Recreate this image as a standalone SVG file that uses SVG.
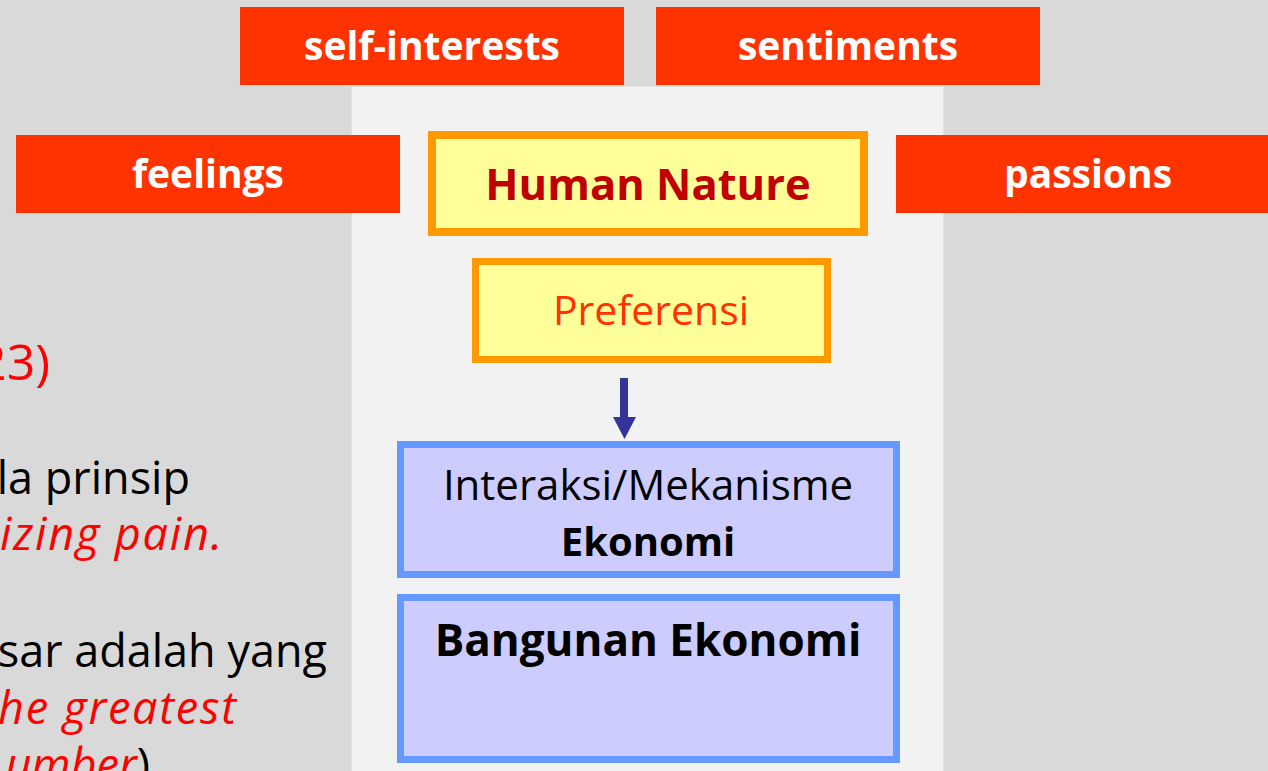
<svg xmlns="http://www.w3.org/2000/svg" width="1268" height="771" viewBox="0 0 1268 771">
  <style>
    .tag { fill: #ff3300; }
    .tagtxt { fill: #ffffff; font-family: "Open Sans", "Liberation Sans", sans-serif; font-weight: bold; font-size: 39px; text-anchor: middle; }
    .yellow { fill: #ffff99; stroke: #ff9900; }
    .blue { fill: #ccccff; stroke: #6699ff; stroke-width: 7; }
    .lbl { font-family: "Open Sans", "Liberation Sans", sans-serif; text-anchor: middle; }
    .body { font-family: "Open Sans", "Liberation Sans", sans-serif; font-size: 45px; text-anchor: end; fill: #000000; }
    .em { fill: #ff0000; font-style: italic; }
  </style>

  <!-- slide background and centre panel -->
  <rect x="0" y="0" width="1268" height="771" fill="#d9d9d9"/>
  <rect x="351.5" y="86.5" width="592" height="690" fill="#f2f2f2" stroke="#e3e3e3" stroke-width="1"/>

  <!-- body text running off the left edge -->
  <g id="body-text">
    <text class="body" x="50" y="380" style="fill:#ff0000;font-size:50px">23)</text>
    <text class="body" x="190" y="494">la prinsip</text>
    <text class="body em" x="222" y="550" textLength="222" lengthAdjust="spacing">izing pain.</text>
    <text class="body" x="327" y="667">sar adalah yang</text>
    <text class="body em" x="236" y="724" textLength="238" lengthAdjust="spacing">he greatest</text>
    <text class="body" x="150" y="781"><tspan class="em">umber</tspan>)</text>
  </g>

  <!-- orange-red tags -->
  <g id="self-interests">
    <rect class="tag" x="240" y="7" width="384" height="78"/>
    <text class="tagtxt" x="432" y="60">self-interests</text>
  </g>
  <g id="sentiments">
    <rect class="tag" x="656" y="7" width="384" height="78"/>
    <text class="tagtxt" x="848" y="60">sentiments</text>
  </g>
  <g id="feelings">
    <rect class="tag" x="16" y="135" width="384" height="78"/>
    <text class="tagtxt" x="208" y="188">feelings</text>
  </g>
  <g id="passions">
    <rect class="tag" x="896" y="135" width="384" height="78"/>
    <text class="tagtxt" x="1088" y="188">passions</text>
  </g>

  <!-- central stack -->
  <g id="human-nature">
    <rect class="yellow" x="432" y="135" width="432" height="97" stroke-width="8"/>
    <text class="lbl" x="648" y="200" style="font-size:43.5px;font-weight:bold;fill:#c00000">Human Nature</text>
  </g>
  <g id="preferensi">
    <rect class="yellow" x="475.5" y="261.5" width="352" height="98" stroke-width="7"/>
    <text class="lbl" x="651" y="325" style="font-size:41px;fill:#ff3300">Preferensi</text>
  </g>
  <g id="interaksi">
    <rect class="blue" x="400.5" y="444.5" width="496" height="130"/>
    <text class="lbl" x="648" y="500" style="font-size:42px;fill:#000000">Interaksi/Mekanisme</text>
    <text class="lbl" x="648" y="556" style="font-size:40px;font-weight:bold;fill:#000000">Ekonomi</text>
  </g>
  <g id="bangunan">
    <rect class="blue" x="400.5" y="597.5" width="496" height="162"/>
    <text class="lbl" x="648" y="656" style="font-size:44px;font-weight:bold;fill:#000000">Bangunan Ekonomi</text>
  </g>

  <!-- connector -->
  <g id="connectors">
    <rect x="620" y="378" width="8" height="40" fill="#333399"/>
    <polygon points="613,417 636,417 624.5,439" fill="#333399"/>
  </g>
</svg>
